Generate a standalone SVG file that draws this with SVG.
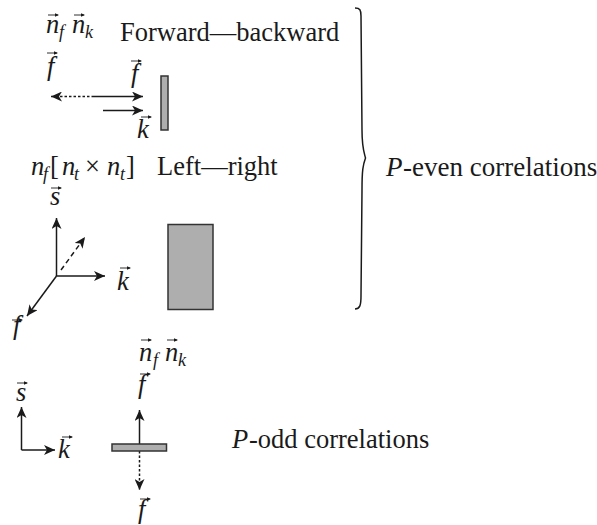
<svg xmlns="http://www.w3.org/2000/svg" width="597" height="525" viewBox="0 0 597 525">
<style>
text{font-family:"Liberation Serif","Times New Roman",serif;font-size:26.500px;fill:#1a1a1a}
.i{font-style:italic}
.s{font-size:18px;font-style:italic}
.b{font-size:27px}
.l{fill:none;stroke:#1a1a1a;stroke-width:1.5}
.d{stroke-dasharray:2.5 2}
.dd{stroke-dasharray:5 3.5}
.h{fill:#1a1a1a;stroke:none}
.p{fill:#aeaeae;stroke:#333;stroke-width:1.5}
.va{fill:none;stroke:#1a1a1a;stroke-width:.9}
</style>
<defs>
<marker id="a" viewBox="0 0 12 10" refX="11" refY="5" markerWidth="12" markerHeight="10" markerUnits="userSpaceOnUse" orient="auto"><path class="h" d="M0 0L11 5L0 10L3 5Z"/></marker>
<g id="v"><path class="va" d="M0 0H10"/><path class="h" d="M7 -1.800L11 0L7 1.800Z"/></g>
</defs>
<g id="connectors">
<path class="l d" d="M94 96.500H51" marker-end="url(#a)"/>
<path class="l" d="M94 96.500H143" marker-end="url(#a)"/>
<path class="l" d="M103 110.500H143" marker-end="url(#a)"/>
<path class="l" d="M56.500 276V218" marker-end="url(#a)"/>
<path class="l" d="M56.500 276H105" marker-end="url(#a)"/>
<path class="l" d="M56.500 276L27 316" marker-end="url(#a)"/>
<path class="l dd" d="M61 270L85 237" marker-end="url(#a)"/>
<path class="l" d="M21.500 450V407" marker-end="url(#a)"/>
<path class="l" d="M21.500 450H55" marker-end="url(#a)"/>
<path class="l" d="M139.500 444V410" marker-end="url(#a)"/>
<path class="l d" d="M139.500 451V490" marker-end="url(#a)"/>
<path id="brace" class="l" d="M355 8C360 8 361 10 361 16L362 130C362 148 364 152 365.500 158C363 165 362 170 362 190L361 296C361 305 360 309 355 309"/>
</g>
<g id="forward-backward">
<text x="120" y="41">Forward—backward</text>
<text class="i" x="46" y="33">n</text><use href="#v" x="48" y="15"/>
<text class="s" x="59" y="38">f</text>
<text class="i" x="72" y="33">n</text><use href="#v" x="74" y="15"/>
<text class="s" x="85" y="38">k</text>
<text class="i" x="47" y="75">f</text><use href="#v" x="47" y="53"/>
<text class="i" x="131" y="82">f</text><use href="#v" x="131" y="61"/>
<text class="i" x="137" y="138">k</text><use href="#v" x="141" y="117"/>
<rect class="p" x="161" y="76" width="7" height="54"/>
</g>
<g id="left-right">
<text x="157" y="175">Left—right</text>
<text class="i" x="31" y="175">n</text><text class="s" x="43" y="180">f</text>
<text x="50" y="175">[</text><text class="i" x="62" y="175">n</text><text class="s" x="74" y="180">t</text>
<text x="85" y="175">×</text>
<text class="i" x="107" y="175">n</text><text class="s" x="120" y="180">t</text><text x="126" y="175">]</text>
<text class="i" x="50" y="205">s</text><use href="#v" x="51" y="188"/>
<text class="i" x="117" y="290">k</text><use href="#v" x="120" y="268"/>
<text class="i" x="13" y="334">f</text><use href="#v" x="12" y="320"/>
<rect class="p" x="168" y="224.500" width="45" height="85"/>
</g>
<g id="p-even"><text class="i b" x="386" y="176">P</text><text class="b" x="403" y="176">-even correlations</text></g>
<g id="p-odd-group">
<text class="i" x="139" y="361">n</text><use href="#v" x="141" y="340"/>
<text class="s" x="153" y="366">f</text>
<text class="i" x="165" y="361">n</text><use href="#v" x="167" y="340"/>
<text class="s" x="178" y="366">k</text>
<text class="i" x="138" y="393">f</text><use href="#v" x="140" y="374"/>
<text class="i" x="16" y="401">s</text><use href="#v" x="17" y="383"/>
<text class="i" x="58" y="458">k</text><use href="#v" x="62" y="437"/>
<text class="i" x="138" y="518">f</text><use href="#v" x="140" y="499"/>
<rect class="p" x="112" y="444" width="54.500" height="7"/>
<text class="i" x="232" y="448">P</text><text x="249" y="448">-odd correlations</text>
</g>
</svg>
